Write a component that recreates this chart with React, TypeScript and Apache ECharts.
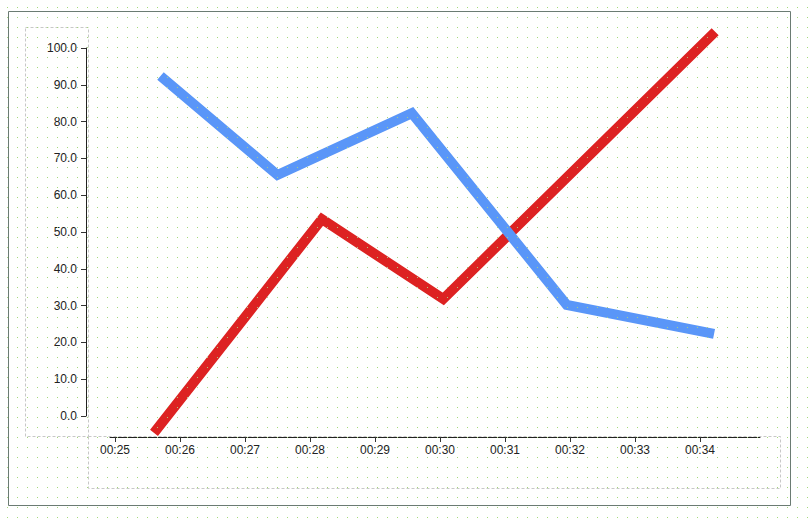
import React, { useEffect, useRef } from "react";
import * as echarts from "echarts";

const blueTimes = ["00:25:42", "00:27:30", "00:29:34", "00:31:57", "00:34:13"];
const blueValues = [92.4, 65.5, 82.3, 30.2, 22.3];
const redTimes = ["00:25:36", "00:28:11", "00:30:03", "00:34:14"];
const redValues = [-4.6, 53.5, 31.8, 104.4];
const axisMinTime = "00:24:55.4";
const axisMaxTime = "00:34:55.4";
const yTicks = [0, 100, 10];

const base = new Date(2024, 0, 1, 0, 0, 0).getTime();
function toMs(t: string): number {
  const [h, m, s] = t.split(":");
  return base + (Number(h) * 3600 + Number(m) * 60 + Number(s)) * 1000;
}
function pad(n: number) {
  return n < 10 ? "0" + n : String(n);
}

export default function App() {
  const ref = useRef<HTMLDivElement>(null);
  useEffect(() => {
    if (!ref.current) return;
    const chart = echarts.init(ref.current, undefined, { renderer: "svg" });
    const font = { fontFamily: "Liberation Sans, Arial, sans-serif", fontSize: 12, color: "#222" };
    chart.setOption({
      animation: false,
      backgroundColor: "#ffffff",
      grid: { left: 110, right: 50, top: 48, bottom: 104, containLabel: false },
      xAxis: {
        type: "time",
        min: toMs(axisMinTime),
        max: toMs(axisMaxTime),
        minInterval: 60000,
        maxInterval: 60000,
        offset: 21,
        axisLine: { show: true, onZero: false, lineStyle: { color: "#222", width: 1 } },
        axisTick: { show: true, inside: false, length: 5, lineStyle: { color: "#333" } },
        splitLine: { show: false },
        axisLabel: {
          ...font,
          margin: 7,
          showMinLabel: false,
          showMaxLabel: false,
          formatter: (v: number) => {
            const d = new Date(v);
            return pad(d.getHours()) + ":" + pad(d.getMinutes());
          },
        },
      },
      yAxis: {
        type: "value",
        min: yTicks[0],
        max: yTicks[1],
        interval: yTicks[2],
        offset: 24,
        axisLine: { show: true, onZero: false, lineStyle: { color: "#222", width: 1 } },
        axisTick: { show: true, inside: false, length: 5, lineStyle: { color: "#333" } },
        splitLine: { show: false },
        axisLabel: { ...font, margin: 9, formatter: (v: number) => v.toFixed(1) },
      },
      graphic: [
        {
          type: "rect",
          shape: { x: 8.5, y: 11.5, width: 782, height: 494 },
          style: { fill: "none", stroke: "#6b7b73", lineWidth: 1 },
          z: 0,
        },
        {
          type: "rect",
          shape: { x: 25.5, y: 27.5, width: 63, height: 409 },
          style: { fill: "none", stroke: "#c8c8c8", lineWidth: 1, lineDash: [3, 2] },
          z: 0,
        },
        {
          type: "rect",
          shape: { x: 88.5, y: 436.5, width: 692, height: 52 },
          style: { fill: "none", stroke: "#c8c8c8", lineWidth: 1, lineDash: [3, 2] },
          z: 0,
        },
      ],
      series: [
        {
          type: "line",
          data: redTimes.map((t, i) => [toMs(t), redValues[i]]),
          showSymbol: false,
          clip: false,
          lineStyle: { color: "#dd2222", width: 10, cap: "butt", join: "miter" },
        },
        {
          type: "line",
          data: blueTimes.map((t, i) => [toMs(t), blueValues[i]]),
          showSymbol: false,
          clip: false,
          lineStyle: { color: "#5a96f8", width: 10, cap: "butt", join: "miter" },
        },
      ],
    });
    return () => chart.dispose();
  }, []);
  return (
    <div style={{ position: "absolute", left: 0, top: 0, width: 810, height: 520 }}>
      <div ref={ref} style={{ position: "absolute", left: 0, top: 0, width: 810, height: 520 }} />
      <svg
        width={810}
        height={520}
        style={{ position: "absolute", left: 0, top: 0, pointerEvents: "none" }}
      >
        <defs>
          <pattern id="dots" x={0} y={0} width={10} height={10} patternUnits="userSpaceOnUse">
            <rect x={7} y={7} width={1} height={1} fill="#a4dc78" />
          </pattern>
        </defs>
        <rect x={0} y={0} width={810} height={520} fill="url(#dots)" />
      </svg>
    </div>
  );
}
